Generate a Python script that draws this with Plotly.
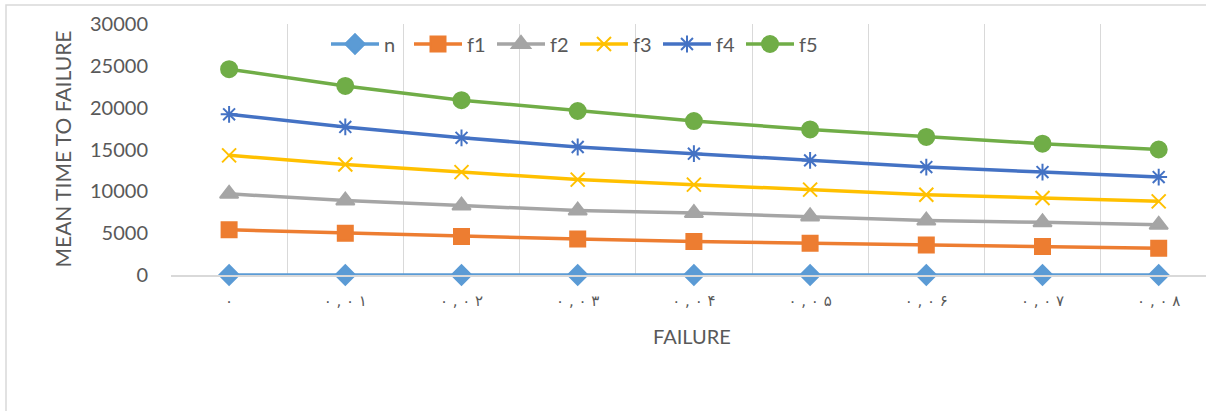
import plotly.graph_objects as go

# failure-rate categories (Persian digits, spaced as printed)
failure_labels = ["۰", "۰ , ۰ ۱", "۰ , ۰ ۲", "۰ , ۰ ۳", "۰ , ۰ ۴", "۰ , ۰ ۵", "۰ , ۰ ۶", "۰ , ۰ ۷", "۰ , ۰ ۸"]

# mean time to failure per series
n_vals = [0, 0, 0, 0, 0, 0, 0, 0, 0]
f1_vals = [5400, 5000, 4600, 4300, 4000, 3800, 3600, 3400, 3200]
f2_vals = [9700, 8900, 8300, 7700, 7400, 7000, 6500, 6300, 6000]
f3_vals = [14300, 13200, 12300, 11400, 10800, 10200, 9600, 9200, 8800]
f4_vals = [19200, 17700, 16400, 15300, 14500, 13700, 12900, 12300, 11700]
f5_vals = [24600, 22600, 20900, 19600, 18400, 17400, 16500, 15700, 15000]

series_names = ["n", "f1", "f2", "f3", "f4", "f5"]
series_vals = [n_vals, f1_vals, f2_vals, f3_vals, f4_vals, f5_vals]
colors = ["#5B9BD5", "#ED7D31", "#A5A5A5", "#FFC000", "#4472C4", "#70AD47"]
symbols = ["diamond", "square", "triangle-up", "x-thin-open", "asterisk-open", "circle"]
sizes = [15, 15, 16, 14, 14, 16]

TEXT = "#595959"
GRID = "#D9D9D9"
FONT = "Lato, 'Open Sans', sans-serif"

fig = go.Figure()
for name, vals, col, sym, sz in zip(series_names, series_vals, colors, symbols, sizes):
    fig.add_trace(go.Scatter(
        x=failure_labels, y=vals, name=name, mode="lines+markers",
        line=dict(color=col, width=3.5),
        marker=dict(symbol=sym, size=sz, color=col, line=dict(color=col, width=2)),
        cliponaxis=False,
    ))

W, H = 1206, 411
L, T, B = 171, 24, 136
plot_w = W - L
plot_h = H - T - B
CAT_W = 116.2  # pixel width of one category slot

def px_x(p):
    return (p - L) / plot_w

def px_y(p):
    return (H - B - p) / plot_h

fig.update_layout(
    width=W, height=H,
    margin=dict(l=L, r=0, t=T, b=B, autoexpand=False),
    paper_bgcolor="white", plot_bgcolor="white",
    font=dict(family=FONT, color=TEXT, size=20),
    showlegend=True,
    legend=dict(
        orientation="h", x=px_x(326), xanchor="left", y=px_y(44), yanchor="middle",
        bgcolor="rgba(0,0,0,0)", font=dict(size=20, color=TEXT, family=FONT),
        itemwidth=48, entrywidth=20, entrywidthmode="pixels",
        traceorder="normal",
    ),
    xaxis=dict(
        type="category", range=[-0.5, -0.5 + plot_w / CAT_W],
        tickson="boundaries", showgrid=True, gridcolor=GRID, gridwidth=1.3,
        showline=True, linecolor=GRID, linewidth=1.5, ticks="",
        tickfont=dict(family="DejaVu Sans", size=15, color=TEXT),
        ticklabelstandoff=11, zeroline=False, automargin=False,
    ),
    yaxis=dict(
        range=[0, 30000], tickvals=[0, 5000, 10000, 15000, 20000, 25000, 30000],
        tickformat="d", showgrid=False, zeroline=False, showline=False, ticks="",
        tickfont=dict(family=FONT, size=20, color=TEXT), ticklabelstandoff=22,
        automargin=False,
    ),
    annotations=[
        dict(text="MEAN TIME TO FAILURE", xref="paper", yref="paper",
             x=px_x(62), y=0.5, xanchor="center", yanchor="middle",
             textangle=-90, showarrow=False, font=dict(size=21, color=TEXT, family=FONT)),
        dict(text="FAILURE", xref="paper", yref="paper",
             x=px_x(692), y=px_y(336), xanchor="center", yanchor="middle",
             showarrow=False, font=dict(size=20, color=TEXT, family=FONT)),
    ],
    shapes=[
        dict(type="rect", xref="paper", yref="paper",
             x0=px_x(6), x1=px_x(1240), y0=px_y(440), y1=px_y(5),
             line=dict(color=GRID, width=1.5), fillcolor="rgba(0,0,0,0)", layer="below"),
    ],
)

fig.write_html("out.html")
